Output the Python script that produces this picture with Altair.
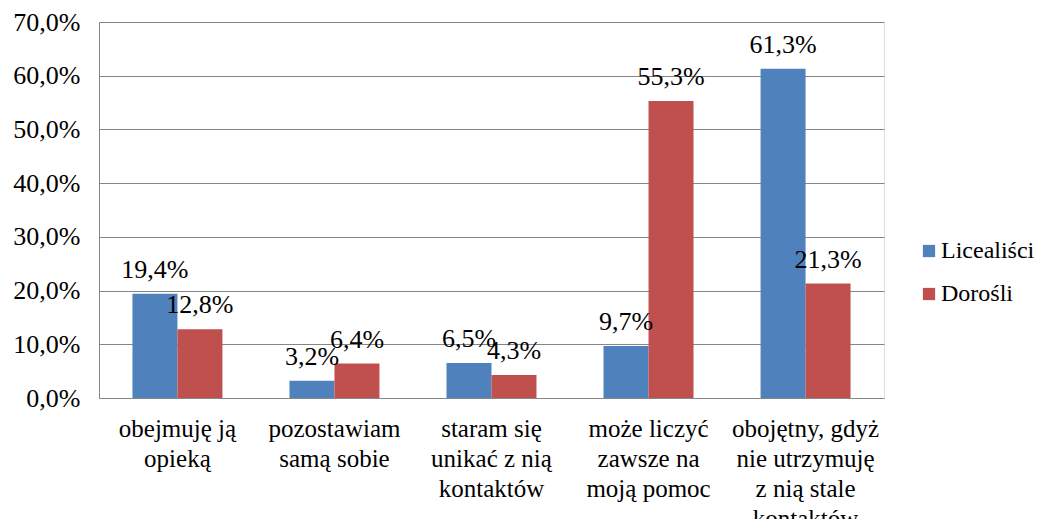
import altair as alt
import pandas as pd

categories = [
    "obejmuję ją|opieką",
    "pozostawiam|samą sobie",
    "staram się|unikać z nią|kontaktów",
    "może liczyć|zawsze na|moją pomoc",
    "obojętny, gdyż|nie utrzymuję|z nią stale|kontaktów",
]
series = ["Licealiści", "Dorośli"]
licealisci = [19.4, 3.2, 6.5, 9.7, 61.3]
dorosli = [12.8, 6.4, 4.3, 55.3, 21.3]
y_ticks = [0, 10, 20, 30, 40, 50, 60, 70]
colors = ["#4F81BD", "#C0504D"]

rows = []
for c, a, b in zip(categories, licealisci, dorosli):
    rows.append({"cat": c, "series": series[0], "value": a})
    rows.append({"cat": c, "series": series[1], "value": b})
df = pd.DataFrame(rows)

FONT = "Liberation Serif, Times New Roman, DejaVu Serif, serif"

x = alt.X(
    "cat:N",
    sort=categories,
    scale=alt.Scale(paddingInner=0.427, paddingOuter=0.213),
    axis=alt.Axis(
        title=None,
        labelAngle=0,
        labelExpr="split(datum.label, '|')",
        labelFont=FONT,
        labelFontSize=25,
        labelColor="#000000",
        labelLineHeight=30,
        labelBaseline="top",
        labelPadding=18,
        ticks=False,
        grid=False,
        domain=False,
        labelLimit=300,
    ),
)
xoff = alt.XOffset("series:N", sort=series)
y = alt.Y(
    "value:Q",
    scale=alt.Scale(domain=[0, 70], nice=False),
    axis=alt.Axis(
        title=None,
        values=y_ticks,
        labelExpr="replace(format(datum.value, '.1f'), '.', ',') + '%'",
        labelFont=FONT,
        labelFontSize=26,
        labelColor="#000000",
        labelPadding=19,
        ticks=False,
        gridColor="#868686",
        domainColor="#868686",
    ),
)

bars = alt.Chart(df).mark_bar().encode(
    x=x,
    xOffset=xoff,
    y=y,
    color=alt.Color(
        "series:N",
        sort=series,
        scale=alt.Scale(domain=series, range=colors),
        legend=alt.Legend(
            title=None,
            orient="none",
            legendX=818,
            legendY=217,
            labelFont=FONT,
            labelFontSize=24,
            labelColor="#000000",
            symbolType="square",
            symbolSize=150,
            symbolStrokeWidth=0,
            rowPadding=19,
            labelOffset=0,
        ),
    ),
)

labels = alt.Chart(df).transform_calculate(
    lbl="replace(format(datum.value, '.1f'), '.', ',') + '%'"
).mark_text(
    font=FONT, fontSize=26, color="#000000", baseline="alphabetic", dy=-16
).encode(
    x=x,
    xOffset=xoff,
    y=y,
    text="lbl:N",
)

chart = (
    alt.layer(bars, labels)
    .properties(
        width=785,
        height=376,
        autosize=alt.AutoSizeParams(type="none"),
        padding={"left": 91, "top": 14, "right": 153, "bottom": 121},
    )
    .configure_view(strokeWidth=0, stroke="transparent", fill="transparent")
    .configure(background="#ffffff")
)

chart.save("out.html", embed_options={"renderer": "svg", "actions": False})
